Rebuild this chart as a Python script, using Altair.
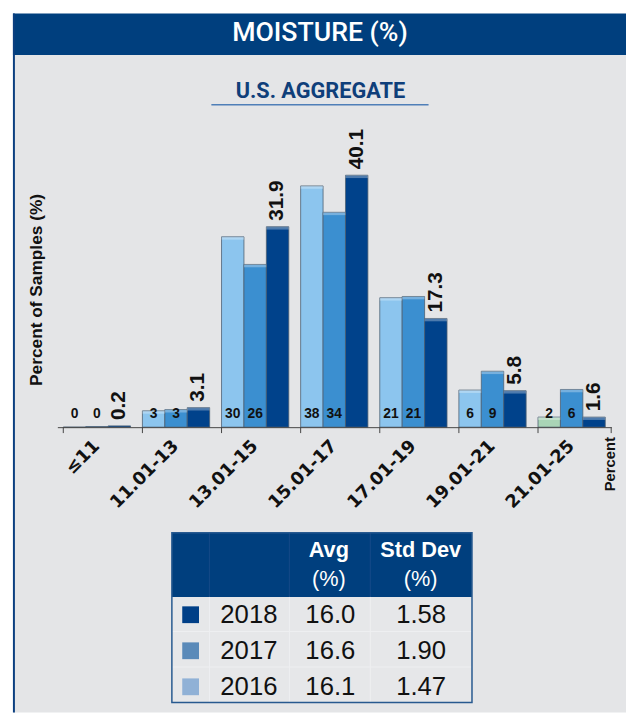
import altair as alt
import pandas as pd

# ---------------- data ----------------
ranges = ["≤11", "11.01-13", "13.01-15", "15.01-17", "17.01-19", "19.01-21", "21.01-25"]
years = ["2016", "2017", "2018"]
pct_2016 = [0.0, 2.6, 30.3, 38.4, 20.6, 5.9, 1.6]
pct_2017 = [0.1, 2.8, 25.9, 34.2, 20.8, 8.9, 6.0]
pct_2018 = [0.2, 3.1, 31.9, 40.1, 17.3, 5.8, 1.6]

table_years = ["2018", "2017", "2016"]
table_avg = [16.0, 16.6, 16.1]
table_std = [1.58, 1.90, 1.47]

bar_colors = ["#8cc5ee", "#3b8fd0", "#00428b"]
swatch_colors = ["#003f87", "#5a8ab9", "#90b1d6"]

NAVY = "#003f7e"
BG = "#e4e5e7"
FONT = "Liberation Sans"
TFONT = "Roboto"
WFONT = "DejaVu Sans"

rows = []
for i, rng in enumerate(ranges):
    for yr, vals in zip(years, [pct_2016, pct_2017, pct_2018]):
        rows.append({"range": rng, "year": yr, "value": vals[i]})
df = pd.DataFrame(rows)

df_t = pd.DataFrame({
    "year": table_years,
    "avg": table_avg,
    "std": table_std,
    "swatch": swatch_colors,
    "row": list(range(len(table_years))),
})

W, H = 561, 280

# ---------------- bars ----------------
x_scale = alt.Scale(domain=ranges, paddingInner=0.15, paddingOuter=0.075)
x_axis = alt.Axis(
    labelAngle=315, labelAlign="right", labelBaseline="middle",
    labelFont=WFONT, labelFontWeight="bold", labelFontSize=18,
    labelColor="#111111", labelPadding=16, labelOverlap=False,
    ticks=False, domainColor="#444444", domainWidth=1, grid=False, title=None,
    zindex=1,
)
x_enc = alt.X("range:N", title=None, scale=x_scale, axis=x_axis)
xoff = alt.XOffset("year:N", scale=alt.Scale(domain=years, paddingInner=0, paddingOuter=0))
y_enc = alt.Y("value:Q", scale=alt.Scale(domain=[0, 44], nice=False, zero=True), axis=None)

base = alt.Chart(df)
bars = base.mark_bar(stroke="#4d5f73", strokeWidth=1, strokeOpacity=0.8).encode(
    x=x_enc, xOffset=xoff, y=y_enc,
    color=alt.condition(
        "datum.range == '21.01-25' && datum.year == '2016'",
        alt.value("#a9d4b6"),
        alt.Color("year:N", scale=alt.Scale(domain=years, range=bar_colors), legend=None),
    ),
)
# light strip along each bar top (bevel highlight)
highlight = base.transform_filter("datum.value > 0.6").transform_calculate(
    top2="datum.value - 0.45"
).mark_bar(color="white", opacity=0.3).encode(
    x=x_enc, xOffset=xoff, y=y_enc, y2="top2:Q",
)
small_lbl = base.transform_filter("datum.year != '2018'").mark_text(
    font=FONT, fontSize=14, fontWeight="bold", color="#111111", baseline="middle"
).encode(x=x_enc, xOffset=xoff, y=alt.value(H - 13), text=alt.Text("value:Q", format=".0f"))
big_lbl = base.transform_filter("datum.year == '2018'").mark_text(
    font=FONT, fontSize=21, fontWeight="bold", color="#111111",
    angle=270, align="left", baseline="middle", dx=6
).encode(x=x_enc, xOffset=xoff, y=y_enc, text=alt.Text("value:Q", format=".1f"))

# tick marks at the band boundaries
ticks = alt.Chart(pd.DataFrame({"range": ranges})).mark_rule(color="#444444", strokeWidth=1).encode(
    x=alt.X("range:N", title=None, scale=x_scale, axis=x_axis, bandPosition=0),
    y=alt.value(H), y2=alt.value(H + 6),
)

# ---------------- decorations ----------------
one = alt.Chart(pd.DataFrame({"a": [0]}))

def rect(x1, x2, y1, y2, **kw):
    return one.mark_rect(**kw).encode(
        x=alt.value(x1), x2=alt.value(x2), y=alt.value(y1), y2=alt.value(y2))

def rule(x1, x2, y1, y2, **kw):
    return one.mark_rule(**kw).encode(
        x=alt.value(x1), x2=alt.value(x2), y=alt.value(y1), y2=alt.value(y2))

def label(txt, x, y, **kw):
    return one.mark_text(text=txt, **kw).encode(x=alt.value(x), y=alt.value(y))

decor = [
    rect(-45, 576, -97, 569, fill=BG),
    rect(-45, 576, -139, -97, fill=NAVY),
    rect(-45, -43, -139, 569, fill="#0b3f80"),
    label("MOISTURE (%)", 266, -111, font=TFONT, fontSize=27, fontWeight=500, color="white",
          align="center", baseline="alphabetic"),
    label("U.S. AGGREGATE", 266.5, -53, font=TFONT, fontSize=22, fontWeight="bold",
          color="#0f3f7a", align="center", baseline="alphabetic"),
    rule(156, 376, -46.5, -46.5, color="#4f7fb8", strokeWidth=1.5),
    label("Percent of Samples (%)", -21, 141, font=FONT, fontSize=17.5, fontWeight="bold",
          color="#111111", angle=270, align="center", baseline="middle"),
    label("Percent", 560, 290, font=FONT, fontSize=15, fontWeight="bold",
          color="#111111", angle=270, align="right", baseline="middle"),
    rule(W, W, H, H + 6, color="#444444", strokeWidth=1),
]

# ---------------- table ----------------
TX1, TX2, TY1, TYH, TY2 = 116, 420, 387, 452, 559
table_decor = [
    rect(TX1, TX2, TYH, TY2, fill="#e6e7e9"),
    rect(TX1, TX2, TY1, TYH, fill=NAVY),
    rule(154, 154, TY1, TYH, color="#154a88", strokeWidth=1),
    rule(235, 235, TY1, TYH, color="#154a88", strokeWidth=1),
    rule(317, 317, TY1, TYH, color="#154a88", strokeWidth=1),
    rule(154, 154, TYH, TY2, color="#eeeff1", strokeWidth=1),
    rule(235, 235, TYH, TY2, color="#eeeff1", strokeWidth=1),
    rule(317, 317, TYH, TY2, color="#eeeff1", strokeWidth=1),
    rule(TX1, TX2, 487, 487, color="#eeeff1", strokeWidth=1),
    rule(TX1, TX2, 523, 523, color="#eeeff1", strokeWidth=1),
    rect(TX1, TX2, TY1, TY2, fillOpacity=0, stroke="#27598f", strokeWidth=1.5),
    label("Avg", 275, 405, font=FONT, fontSize=22, fontWeight="bold", color="white",
          align="center", baseline="middle"),
    label("(%)", 275, 434, font=FONT, fontSize=22, color="white",
          align="center", baseline="middle"),
    label("Std Dev", 368, 405, font=FONT, fontSize=22, fontWeight="bold", color="white",
          align="center", baseline="middle"),
    label("(%)", 368, 434, font=FONT, fontSize=22, color="white",
          align="center", baseline="middle"),
]

# table rows: pixel row positions computed from row index (identity scale)
tbase = alt.Chart(df_t).transform_calculate(py="470 + datum.row * 36.5")
row_y = alt.Y("py:Q", scale=None, axis=None)
swatch = tbase.mark_square(size=289, opacity=1).encode(
    x=alt.value(135), y=row_y, color=alt.Color("swatch:N", scale=None, legend=None))
t_year = tbase.mark_text(font=FONT, fontSize=26, color="#111111", align="center", baseline="middle").encode(
    x=alt.value(194), y=row_y, text="year:N")
t_avg = tbase.mark_text(font=FONT, fontSize=26, color="#111111", align="center", baseline="middle").encode(
    x=alt.value(276.5), y=row_y, text=alt.Text("avg:Q", format=".1f"))
t_std = tbase.mark_text(font=FONT, fontSize=26, color="#111111", align="center", baseline="middle").encode(
    x=alt.value(368.5), y=row_y, text=alt.Text("std:Q", format=".2f"))

chart = alt.layer(
    *decor, *table_decor, bars, highlight, ticks, small_lbl, big_lbl, swatch, t_year, t_avg, t_std
).properties(
    width=W, height=H,
    autosize=alt.AutoSizeParams(type="none"),
    padding={"left": 50, "top": 140, "right": 15, "bottom": 289},
    background="white",
).configure_view(stroke=None)

chart.save("out.html", embed_options={"renderer": "svg", "actions": False})
